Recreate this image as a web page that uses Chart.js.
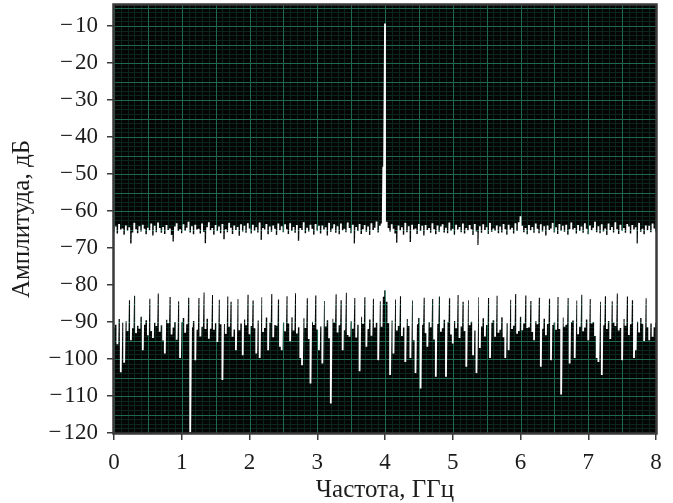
<!DOCTYPE html>
<html>
<head>
<meta charset="utf-8">
<script src="https://cdn.jsdelivr.net/npm/chart.js@4/dist/chart.umd.min.js"></script>
<style>
  html, body { margin: 0; padding: 0; background: #ffffff; }
  #wrap { width: 673px; height: 503px; }
</style>
</head>
<body>
<div id="wrap"><canvas id="spectrum" width="673" height="503"></canvas></div>
<script>
// Spectrum analyser trace, 0–8 GHz, one bin every FREQ_STEP GHz.
// For each bin the trace spans from its upper level down to its lower level (dB).
const FREQ_STEP = 0.025;

const upperLevel = [
  -65.6,-64.2,-66.1,-63.5,-65.0,-64.7,-66.4,-63.9,-65.3,-64.4,-68.8,-65.8,-63.2,-64.9,-66.0,-64.1,-65.5,-63.7,-64.8,-66.3,
  -64.5,-65.2,-63.4,-66.6,-64.0,-65.7,-63.1,-64.6,-65.9,-64.3,-66.2,-63.8,-65.1,-64.7,-66.5,-68.2,-64.2,-63.3,-65.4,-64.9,
  -66.0,-63.6,-65.3,-64.5,-62.9,-65.8,-64.1,-66.3,-63.7,-65.0,-64.8,-66.1,-63.4,-65.6,-68.7,-64.4,-63.0,-65.2,-64.6,-66.4,
  -63.8,-65.4,-64.2,-66.0,-63.5,-67.6,-64.9,-65.7,-63.2,-64.5,-66.2,-63.9,-65.1,-64.3,-66.7,-63.6,-65.5,-64.0,-65.9,-63.3,
  -64.7,-66.1,-63.7,-65.3,-64.4,-65.8,-63.1,-67.8,-64.6,-65.0,-63.5,-66.3,-64.2,-65.6,-63.9,-64.8,-66.5,-63.4,-65.2,-64.1,
  -65.7,-63.6,-64.9,-66.2,-63.3,-65.4,-64.3,-65.9,-63.8,-68.0,-64.6,-65.1,-63.0,-66.0,-64.5,-65.5,-63.7,-64.8,-66.4,-63.5,
  -65.3,-64.0,-66.1,-63.9,-65.0,-64.4,-66.6,-63.2,-65.6,-64.7,-63.6,-65.9,-64.1,-66.3,-63.4,-65.2,-64.8,-65.7,-63.1,-64.6,
  -66.0,-63.7,-68.8,-64.3,-65.4,-63.5,-66.2,-64.9,-63.8,-65.6,-64.2,-66.5,-63.3,-65.1,-64.5,-62.8,-65.8,-64.0,-63.4,-48.0,
  -9.3,-62.9,-64.6,-65.5,-63.6,-64.8,-66.1,-68.6,-63.9,-65.2,-64.4,-66.4,-63.2,-65.7,-64.1,-68.4,-63.7,-65.0,-64.7,-66.2,
  -63.5,-65.4,-64.0,-66.6,-63.8,-65.1,-64.6,-65.9,-63.3,-64.9,-66.3,-63.9,-65.6,-64.2,-63.6,-65.8,-64.5,-66.0,-63.1,-65.3,
  -64.8,-66.4,-63.7,-65.0,-64.3,-65.7,-63.4,-66.1,-64.6,-65.2,-63.8,-64.9,-66.5,-63.5,-65.5,-69.2,-64.1,-65.9,-63.6,-65.1,
  -64.4,-66.2,-63.2,-65.6,-64.7,-65.3,-63.9,-66.0,-64.2,-65.8,-63.5,-64.9,-66.4,-63.7,-65.0,-64.5,-66.1,-63.3,-65.4,-63.0,
  -61.4,-64.0,-65.7,-64.6,-66.3,-63.8,-65.2,-64.3,-65.9,-63.4,-64.8,-66.0,-63.6,-65.5,-64.1,-66.6,-63.9,-65.1,-64.7,-63.2,
  -65.8,-64.4,-66.2,-63.5,-65.3,-64.0,-65.6,-63.7,-66.4,-64.9,-63.1,-65.0,-64.6,-66.1,-63.8,-65.4,-64.2,-65.9,-63.3,-64.8,
  -66.3,-63.9,-65.2,-64.5,-62.9,-65.7,-64.1,-66.0,-63.6,-65.5,-64.7,-66.5,-63.4,-65.1,-64.3,-65.8,-63.0,-64.9,-66.2,-63.7,
  -65.3,-64.6,-65.9,-63.5,-64.2,-66.1,-63.8,-65.0,-64.4,-68.8,-63.2,-65.6,-64.8,-66.3,-63.9,-65.2,-64.0,-65.7,-63.4,-64.7,-65.5
];

const lowerLevel = [
  -91.5,-90.7,-96.0,-89.2,-103.6,-90.1,-101.0,-89.8,-92.4,-84.1,-94.9,-91.7,-82.9,-93.0,-91.0,-91.8,-88.6,-97.6,-90.7,-89.5,
  -93.6,-83.7,-92.4,-94.3,-90.2,-91.1,-82.3,-92.6,-90.9,-95.0,-98.5,-89.4,-90.3,-83.2,-93.4,-91.5,-90.0,-94.8,-84.4,-99.7,
  -90.0,-88.9,-92.9,-90.6,-83.4,-119.8,-91.4,-89.7,-100.3,-92.1,-83.5,-93.9,-91.3,-82.0,-91.9,-89.1,-94.5,-91.8,-82.7,-92.1,
  -90.3,-95.4,-84.0,-90.6,-105.7,-90.5,-93.2,-83.1,-91.3,-84.5,-94.0,-92.0,-97.6,-83.8,-92.2,-90.4,-99.0,-89.3,-90.9,-82.6,
  -93.3,-91.1,-84.2,-91.7,-98.5,-89.6,-99.7,-83.3,-92.7,-91.6,-88.8,-97.6,-90.2,-82.4,-94.1,-90.8,-91.0,-83.9,-96.7,-97.6,
  -90.1,-92.5,-83.0,-90.4,-95.2,-88.7,-92.3,-82.2,-93.1,-91.4,-99.7,-101.7,-89.0,-91.6,-83.6,-94.6,-106.6,-89.9,-90.8,-82.8,
  -92.0,-97.6,-91.2,-101.2,-84.3,-91.2,-89.5,-94.4,-112.0,-89.1,-90.1,-82.5,-92.8,-90.9,-84.1,-97.6,-92.2,-82.1,-93.5,-94.0,
  -89.8,-91.8,-83.5,-94.2,-90.7,-103.3,-88.6,-90.5,-83.3,-96.7,-91.9,-89.3,-93.7,-83.7,-91.5,-90.2,-100.3,-84.4,-91.3,-83.2,
  -81.4,-84.5,-90.3,-104.3,-89.6,-98.5,-83.9,-92.3,-91.1,-83.0,-93.8,-91.5,-100.8,-89.2,-91.1,-99.7,-84.2,-94.9,-103.8,-90.6,
  -88.9,-108.0,-90.7,-83.4,-93.0,-96.7,-90.0,-91.4,-83.8,-94.7,-104.8,-90.5,-83.1,-92.6,-91.7,-89.4,-104.8,-90.0,-83.6,-93.4,
  -95.8,-89.7,-91.7,-82.7,-94.3,-91.2,-84.5,-92.4,-102.1,-84.1,-90.9,-89.9,-99.0,-92.3,-103.8,-83.3,-97.0,-91.2,-89.0,-93.9,
  -90.8,-83.5,-99.7,-90.2,-89.5,-94.0,-82.9,-92.9,-92.1,-88.7,-94.1,-99.7,-90.3,-97.6,-84.0,-91.9,-91.0,-82.4,-93.2,-92.4,
  -88.6,-92.2,-90.4,-82.8,-91.6,-91.4,-84.3,-92.7,-94.9,-89.8,-90.6,-83.4,-102.1,-91.8,-89.1,-93.6,-90.5,-83.7,-100.3,-90.8,
  -90.1,-92.1,-83.2,-91.9,-109.6,-88.8,-91.3,-90.7,-83.5,-101.2,-90.0,-89.6,-99.7,-84.2,-93.3,-91.3,-82.6,-92.5,-91.5,-89.3,
  -94.9,-83.8,-90.4,-90.0,-93.8,-99.7,-100.8,-84.5,-104.3,-90.9,-83.0,-91.9,-89.7,-94.6,-84.4,-90.1,-91.1,-82.3,-92.3,-91.6,
  -100.3,-89.2,-91.0,-83.1,-93.5,-90.6,-84.1,-99.7,-97.6,-89.9,-92.8,-88.9,-90.5,-95.1,-83.6,-91.4,-94.9,-90.4,-94.0,-91.4,-90.2
];

const xTickValues = [0, 1, 2, 3, 4, 5, 6, 7, 8];
const yTickValues = [-120, -110, -100, -90, -80, -70, -60, -50, -40, -30, -20, -10];

// Screen graticule: fine divisions and bright divisions (GHz / dB)
const GRID_X = { fine: 0.1, bright: 0.5 };
const GRID_Y = { fine: 1.25, bright: 5 };

const FREQ_MAX = 8;
const LEVEL_MIN = -120;
const LEVEL_MAX = -4.3;

// min/max pairs per bin, so the line sweeps each bin from top to bottom
const trace = [];
upperLevel.forEach((hi, i) => {
  const f = i * FREQ_STEP;
  trace.push({ x: f, y: hi });
  trace.push({ x: f, y: lowerLevel[i] });
});

const FONT = 'Liberation Serif, "Times New Roman", serif';
const TEXT = '#1c1c1c';
const FRAME = '#3a3a3a';

const screenPlugin = {
  id: 'screen',
  beforeDatasetsDraw(chart) {
    const { ctx, chartArea: a, scales: { x, y } } = chart;
    ctx.save();
    ctx.fillStyle = '#050505';
    ctx.fillRect(a.left, a.top, a.width, a.height);
    ctx.lineWidth = 1;
    const drawPass = (bright) => {
      ctx.strokeStyle = bright ? 'rgb(30,106,78)' : 'rgb(11,38,29)';
      ctx.beginPath();
      const nx = Math.round(FREQ_MAX / GRID_X.fine);
      const ratioX = Math.round(GRID_X.bright / GRID_X.fine);
      for (let k = 0; k <= nx; k++) {
        if ((k % ratioX === 0) !== bright) continue;
        const px = Math.round(x.getPixelForValue(k * GRID_X.fine)) + 0.5;
        ctx.moveTo(px, a.top); ctx.lineTo(px, a.bottom);
      }
      for (let v = LEVEL_MIN; v <= LEVEL_MAX; v += GRID_Y.fine) {
        if ((v % GRID_Y.bright === 0) !== bright) continue;
        const py = Math.round(y.getPixelForValue(v)) + 0.5;
        ctx.moveTo(a.left, py); ctx.lineTo(a.right, py);
      }
      ctx.stroke();
    };
    drawPass(false);
    drawPass(true);
    ctx.restore();
  },
  afterDatasetsDraw(chart) {
    const { ctx, chartArea: a } = chart;
    ctx.save();
    ctx.strokeStyle = FRAME;
    ctx.lineWidth = 2.5;
    ctx.strokeRect(a.left - 0.5, a.top - 0.5, a.width + 1, a.height + 1);
    ctx.restore();
  }
};

// typographic minus with a hair of room after it
const minus = v => String(v).replace('-', '\u2212\u200A');

new Chart(document.getElementById('spectrum'), {
  type: 'line',
  data: {
    datasets: [{
      data: trace,
      borderColor: '#ffffff',
      borderWidth: 1.8,
      borderJoinStyle: 'bevel',
      borderCapStyle: 'butt',
      pointRadius: 0,
      tension: 0,
      fill: false
    }]
  },
  options: {
    responsive: false,
    animation: false,
    parsing: false,
    normalized: true,
    devicePixelRatio: 1,
    layout: { padding: { top: 5, right: 17, left: 0, bottom: 0 } },
    plugins: { legend: { display: false }, tooltip: { enabled: false } },
    scales: {
      x: {
        type: 'linear',
        min: 0,
        max: FREQ_MAX,
        afterFit: s => { s.height = 70; s.paddingLeft = 0; s.paddingRight = 0; },
        afterBuildTicks: s => { s.ticks = xTickValues.map(v => ({ value: v })); },
        ticks: {
          font: { family: FONT, size: 23 },
          color: TEXT,
          padding: 9,
          maxRotation: 0,
          callback: v => minus(v)
        },
        grid: { drawOnChartArea: false, drawTicks: true, tickLength: 7, color: FRAME, lineWidth: 1.5 },
        border: { display: false },
        title: {
          display: true,
          text: 'Частота, ГГц',
          font: { family: FONT, size: 25, lineHeight: 1.0 },
          color: TEXT,
          padding: { top: 0, bottom: 0 }
        }
      },
      y: {
        type: 'linear',
        min: LEVEL_MIN,
        max: LEVEL_MAX,
        afterFit: s => { s.width = 114; s.paddingTop = 0; s.paddingBottom = 0; },
        afterBuildTicks: s => { s.ticks = yTickValues.map(v => ({ value: v })); },
        ticks: {
          font: { family: FONT, size: 23 },
          color: TEXT,
          padding: 9,
          callback: v => minus(v)
        },
        grid: { drawOnChartArea: false, drawTicks: true, tickLength: 7, color: FRAME, lineWidth: 1.5 },
        border: { display: false },
        title: {
          display: true,
          text: 'Амплитуда, дБ',
          font: { family: FONT, size: 25, lineHeight: 1.0 },
          color: TEXT,
          padding: { top: 10, bottom: 0 }
        }
      }
    }
  },
  plugins: [screenPlugin]
});
</script>
</body>
</html>
